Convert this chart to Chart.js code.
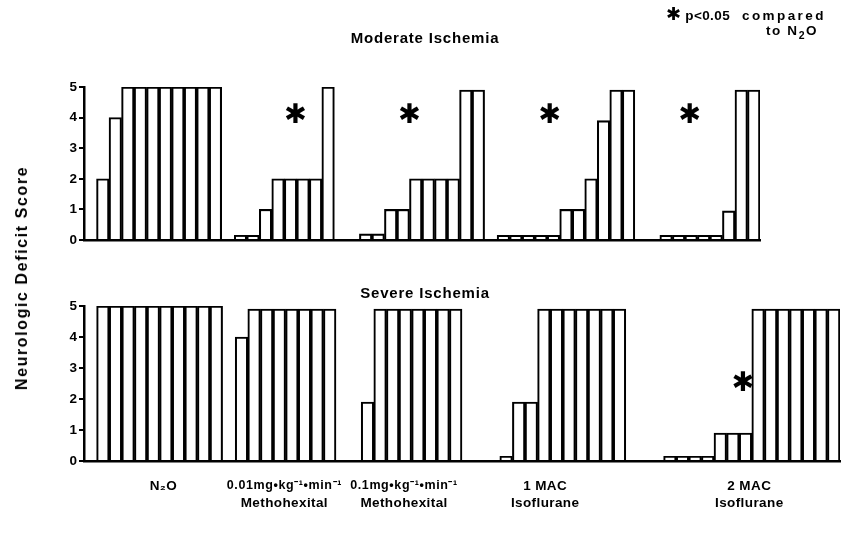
<!DOCTYPE html>
<html><head><meta charset="utf-8">
<script src="https://cdn.jsdelivr.net/npm/chart.js@4/dist/chart.umd.min.js"></script>
<style>
html,body{margin:0;padding:0;background:#fff;}
#wrap{position:relative;width:845px;height:536px;overflow:hidden;font-family:"Liberation Sans",Arial,sans-serif;font-weight:bold;color:#000;}
canvas{position:absolute;left:0;}
#c1{top:0;} #c2{top:260px;}
.t{position:absolute;white-space:nowrap;}
</style></head><body>
<div id="wrap">
<canvas id="c1" width="845" height="260"></canvas>
<canvas id="c2" width="845" height="276"></canvas>
<div class="t" style="left:0;width:850px;text-align:center;top:29px;font-size:15px;letter-spacing:0.8px;">Moderate Ischemia</div>
<div class="t" style="left:0;width:850px;text-align:center;top:284px;font-size:15px;letter-spacing:0.8px;">Severe Ischemia</div>
<div class="t" style="left:666px;top:3px;font-size:13.5px;letter-spacing:0.4px;"><span style="font-family:'DejaVu Sans';font-size:18px;letter-spacing:0;">✱</span> p&lt;0.05<span style="display:inline-block;width:12px;"></span><span style="letter-spacing:2.4px;">compared</span></div>
<div class="t" style="left:766px;top:23px;font-size:13.5px;letter-spacing:1.6px;">to N<sub style="font-size:10.5px;">2</sub>O</div>
<div class="t" style="left:22px;top:278px;font-size:16px;letter-spacing:1.6px;transform:translate(-50%,-50%) rotate(-90deg);">Neurologic Deficit Score</div>
</div>
<script>
// ---- data (scores per animal, per group) ----
const groupNames = ['N₂O', '0.01 mg·kg⁻¹·min⁻¹ Methohexital', '0.1 mg·kg⁻¹·min⁻¹ Methohexital', '1 MAC Isoflurane', '2 MAC Isoflurane'];
const yTicks = [0, 1, 2, 3, 4, 5];
// Moderate ischemia
const modN2O      = [2, 4, 5, 5, 5, 5, 5, 5, 5, 5];
const modMetho001 = [0.15, 0.15, 1, 2, 2, 2, 2, 5];
const modMetho01  = [0.2, 0.2, 1, 1, 2, 2, 2, 2, 4.9, 4.9];
const modIso1     = [0.15, 0.15, 0.15, 0.15, 0.15, 1, 1, 2, 3.9, 4.9, 4.9];
const modIso2     = [0.15, 0.15, 0.15, 0.15, 0.15, 0.95, 4.9, 4.9];
// Severe ischemia
const sevN2O      = [5, 5, 5, 5, 5, 5, 5, 5, 5, 5];
const sevMetho001 = [4, 4.9, 4.9, 4.9, 4.9, 4.9, 4.9, 4.9];
const sevMetho01  = [1.9, 4.9, 4.9, 4.9, 4.9, 4.9, 4.9, 4.9];
const sevIso1     = [0.15, 1.9, 1.9, 4.9, 4.9, 4.9, 4.9, 4.9, 4.9, 4.9];
const sevIso2     = [0.15, 0.15, 0.15, 0.15, 0.9, 0.9, 0.9, 4.9, 4.9, 4.9, 4.9, 4.9, 4.9, 4.9];

// ---- layout (empty slots before each group, star placement, label anchors) ----
const modGaps = [1, 1, 2, 1, 2];
const sevGaps = [1, 1, 2, 3, 3];
const modStarCat = [16.4, 25.5, 36.7, 47.9];
const modStarY = 4.05;
const sevStarCat = [51.8];
const sevStarY = 2.5;
const labelCat = [5.8, 15.4, 24.9, 36.1, 52.3];
const labelLines = [
  ['N₂O'],
  ['0.01mg•kg⁻¹•min⁻¹', 'Methohexital'],
  ['0.1mg•kg⁻¹•min⁻¹', 'Methohexital'],
  ['1 MAC', 'Isoflurane'],
  ['2 MAC', 'Isoflurane']
];

function buildSlots(groups, gaps) {
  const data = [];
  groups.forEach((g, i) => {
    for (let k = 0; k < gaps[i]; k++) data.push(null);
    g.forEach(v => data.push(v));
  });
  return data;
}

const annot = {
  id: 'annot',
  afterDatasetsDraw(chart, args, opts) {
    const ctx = chart.ctx, xs = chart.scales.x, ys = chart.scales.y;
    const x0 = xs.getPixelForValue(0), w = xs.getPixelForValue(1) - x0;
    ctx.save();
    ctx.fillStyle = '#000';
    ctx.textAlign = 'center';
    ctx.textBaseline = 'middle';
    ctx.font = 'bold 27px "DejaVu Sans"';
    (opts.stars || []).forEach(c => ctx.fillText('✱', x0 + c * w, ys.getPixelForValue(opts.starY)));
    if (opts.labels) {
      labelLines.forEach((lines, i) => {
        const cx = x0 + labelCat[i] * w;
        lines.forEach((s, j) => {
          const small = (j === 0 && i > 0 && i < 3);
          ctx.font = small ? 'bold 12.5px "Liberation Sans", Arial' : 'bold 13.5px "Liberation Sans", Arial';
          ctx.letterSpacing = small ? '0.6px' : '0.4px';
          ctx.fillText(s, cx, chart.chartArea.bottom + 25 + j * 17);
        });
      });
    }
    ctx.restore();
  }
};

function makeChart(id, groups, gaps, padding, stars, starY, labels) {
  const data = buildSlots(groups, gaps);
  const cats = data.map((_, i) => String(i));
  return new Chart(document.getElementById(id), {
    type: 'bar',
    data: {
      labels: cats,
      datasets: [{
        data: data,
        backgroundColor: '#fff',
        borderColor: '#000',
        borderWidth: 2.1,
        barPercentage: 1,
        categoryPercentage: 1
      }]
    },
    options: {
      responsive: false,
      animation: false,
      layout: { padding: padding },
      plugins: { legend: { display: false }, tooltip: { enabled: false },
        annot: { stars: stars, starY: starY, labels: labels } },
      scales: {
        x: {
          ticks: { display: false },
          grid: { display: false },
          border: { display: true, color: '#000', width: 2.5 },
          afterFit: s => { s.height = 0; }
        },
        y: {
          min: 0, max: 5,
          afterBuildTicks: s => { s.ticks = yTicks.map(v => ({ value: v })); },
          ticks: { color: '#000', font: { family: '"Liberation Sans", Arial', weight: 'bold', size: 13.5 }, padding: 2 },
          grid: { display: true, drawOnChartArea: false, drawTicks: true, tickLength: 5, color: '#000', lineWidth: 2 },
          border: { display: true, color: '#000', width: 2.5 },
          afterFit: s => { s.width = 84; }
        }
      }
    },
    plugins: [annot]
  });
}

makeChart('c1', [modN2O, modMetho001, modMetho01, modIso1, modIso2], modGaps,
  { top: 87, bottom: 20, left: 0, right: 85 }, modStarCat, modStarY, false);
makeChart('c2', [sevN2O, sevMetho001, sevMetho01, sevIso1, sevIso2], sevGaps,
  { top: 46, bottom: 75, left: 0, right: 5 }, sevStarCat, sevStarY, true);
</script>
</body></html>
